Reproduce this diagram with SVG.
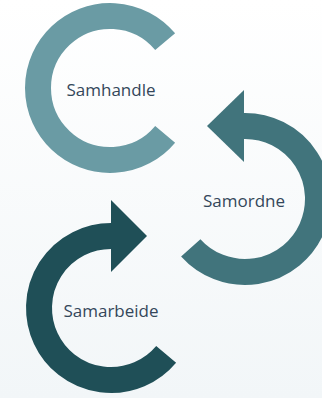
<svg xmlns="http://www.w3.org/2000/svg" width="322" height="398" viewBox="0 0 322 398">
  <defs>
    <linearGradient id="bg" x1="0" y1="0" x2="0" y2="1">
      <stop offset="0" stop-color="#ffffff"/>
      <stop offset="1" stop-color="#f2f6f8"/>
    </linearGradient>
  </defs>
  <style>
    .ring { fill: none; stroke-width: 26; stroke-linecap: butt; }
    .lbl { font-family: "Open Sans", "Liberation Sans", sans-serif; font-size: 17px; fill: #34475a; text-anchor: middle; }
  </style>
  <rect width="322" height="398" fill="url(#bg)"/>
  <g id="samhandle">
    <path class="ring" stroke="#6a9ba4" d="M165.16 41.72 A72 72 0 1 0 165.16 134.28"/>
    <text class="lbl" x="111" y="96">Samhandle</text>
  </g>
  <g id="samordne">
    <path class="ring" stroke="#41747c" d="M243 126 L245 126 A73 73 0 1 1 190.75 247.85"/>
    <polygon fill="#41747c" points="244,90 244,162 207,126"/>
    <text class="lbl" x="244" y="207">Samordne</text>
  </g>
  <g id="samarbeide">
    <path class="ring" stroke="#1f4f57" d="M112 236 L111 236 A72 72 0 1 0 166.16 354.28"/>
    <polygon fill="#1f4f57" points="111,200 111,272 147,236"/>
    <text class="lbl" x="111" y="317">Samarbeide</text>
  </g>
  <g id="connectors"/>
</svg>
